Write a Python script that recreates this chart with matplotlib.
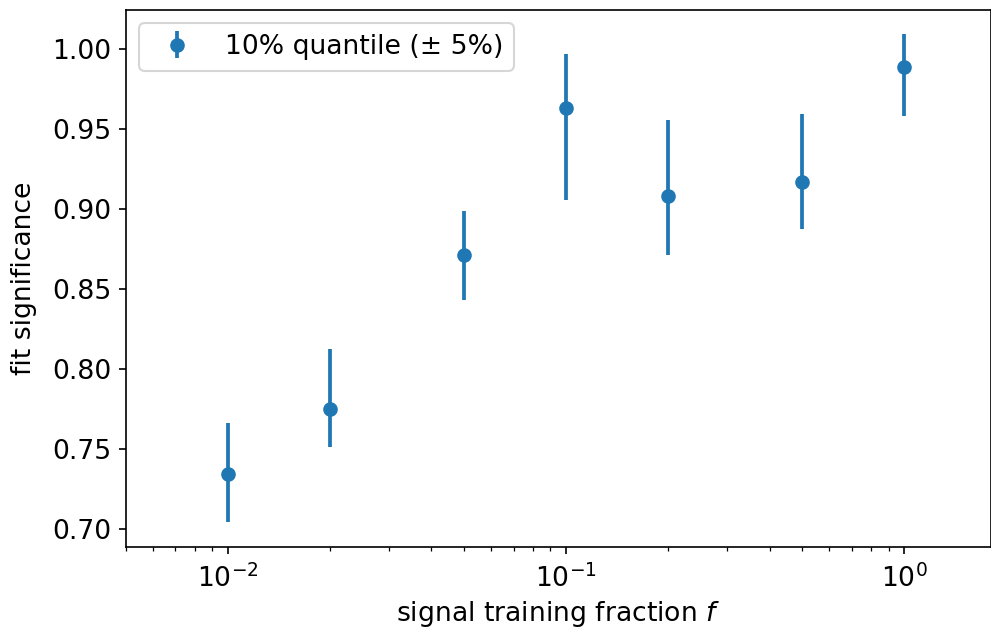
import matplotlib
matplotlib.use("Agg")
import matplotlib.pyplot as plt
import numpy as np

# signal training fraction and fit significance (10% quantile)
fractions = [0.01, 0.02, 0.05, 0.1, 0.2, 0.5, 1.0]
significance = [0.7345, 0.7753, 0.8713, 0.9636, 0.9084, 0.9172, 0.9893]
upper = [0.766, 0.8123, 0.899, 0.9969, 0.956, 0.9598, 1.0094]
lower = [0.704, 0.7515, 0.843, 0.9059, 0.8713, 0.8877, 0.9586]

plt.rcParams["font.size"] = 12.8

sig = np.array(significance)
yerr = [sig - np.array(lower), np.array(upper) - sig]

fig = plt.figure(figsize=(6.61, 4.2), dpi=150)
ax = fig.add_axes([0.127, 0.132, 0.872, 0.852])

ax.errorbar(fractions, significance, yerr=yerr, fmt="o", color="C0",
            lw=1.8, label="10% quantile (± 5%)")
ax.set_xscale("log")
ax.set_xlim(0.005, 1.8)
ax.tick_params(axis="x", which="major", pad=5)
ax.set_xlabel("signal training fraction $f$", labelpad=3)
ax.set_ylabel("fit significance", labelpad=7)
ax.legend(loc="upper left")

fig.savefig("out.png", dpi=150)
